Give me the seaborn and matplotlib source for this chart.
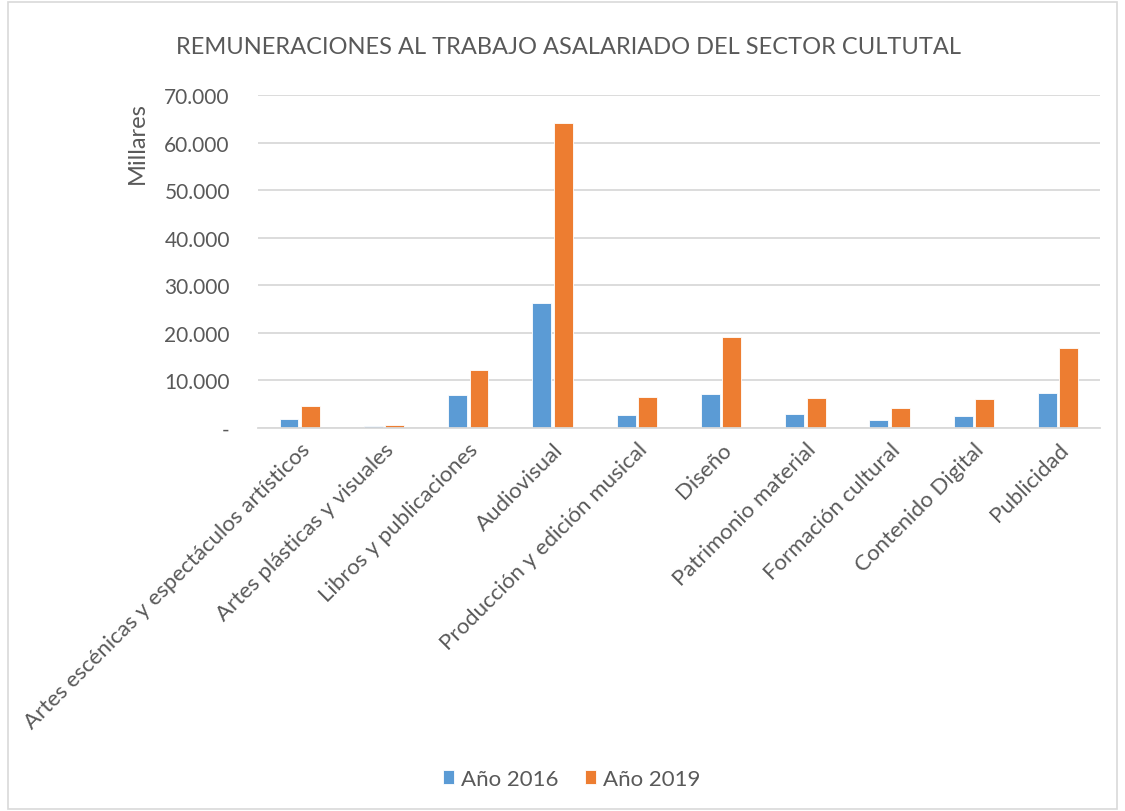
import matplotlib
matplotlib.use("Agg")
import matplotlib.pyplot as plt
import seaborn as sns
import pandas as pd
from matplotlib.ticker import FuncFormatter
from matplotlib.patches import Rectangle

categories = [
    "Artes escénicas y espectáculos artísticos",
    "Artes plásticas y visuales",
    "Libros y publicaciones",
    "Audiovisual",
    "Producción y edición musical",
    "Diseño",
    "Patrimonio material",
    "Formación cultural",
    "Contenido Digital",
    "Publicidad",
]
values_2016 = [1950, 350, 7000, 26200, 2700, 7100, 2900, 1750, 2600, 7400]
values_2019 = [4600, 630, 12200, 64100, 6500, 19200, 6300, 4200, 6000, 16800]
series = ["Año 2016", "Año 2019"]
title = "REMUNERACIONES AL TRABAJO ASALARIADO DEL SECTOR CULTUTAL"
ylabel = "Millares"

df = pd.DataFrame({
    "cat": categories * 2,
    "val": values_2016 + values_2019,
    "serie": [series[0]] * len(categories) + [series[1]] * len(categories),
})

sns.set_style("white")
plt.rcParams["font.family"] = ["Lato", "DejaVu Sans"]
text_color = "#595959"

fig = plt.figure(figsize=(11.25, 8.12), dpi=100)
ax = fig.add_axes([0.229, 0.4717, 0.749, 0.4101])

sns.barplot(data=df, x="cat", y="val", hue="serie",
            palette=["#5B9BD5", "#ED7D31"], saturation=1, width=0.51, gap=0.12,
            edgecolor="white", linewidth=0.6, ax=ax, legend=True)

ax.set_ylim(0, 70000)
ax.set_yticks(range(0, 70001, 10000))
ax.yaxis.set_major_formatter(FuncFormatter(
    lambda v, p: "-" if v == 0 else f"{int(v):,}".replace(",", ".")))
ax.grid(axis="y", color="#D9D9D9", linewidth=1.3)
ax.set_axisbelow(True)
for s in ["top", "right", "left"]:
    ax.spines[s].set_visible(False)
ax.spines["bottom"].set_color("#D9D9D9")
ax.spines["bottom"].set_linewidth(1.3)

ax.tick_params(axis="y", length=0, pad=20, labelsize=15, labelcolor=text_color)
ax.tick_params(axis="x", length=0, pad=8, labelsize=16, labelcolor=text_color)
plt.setp(ax.get_xticklabels(), rotation=45, ha="right", rotation_mode="anchor")

ax.set_xlabel("")
ax.set_ylabel(ylabel, fontsize=17, color=text_color)
ax.yaxis.set_label_coords(-0.13, 0.86)

fig.text(0.505, 0.942, title, ha="center", va="center", fontsize=17,
         color=text_color)

handles, labels = ax.get_legend_handles_labels()
ax.legend_.remove()
fig.legend(handles, labels, loc="center", bbox_to_anchor=(0.508, 0.04),
           ncol=2, frameon=False, fontsize=16, labelcolor=text_color,
           handlelength=0.5, handleheight=0.6, handletextpad=0.3,
           columnspacing=1.2)

fig.patches.append(Rectangle((8 / 1125, 2 / 812), 1109 / 1125, 807 / 812,
                             transform=fig.transFigure, fill=False,
                             edgecolor="#D9D9D9", linewidth=1.2))

fig.savefig("out.png", dpi=100)
